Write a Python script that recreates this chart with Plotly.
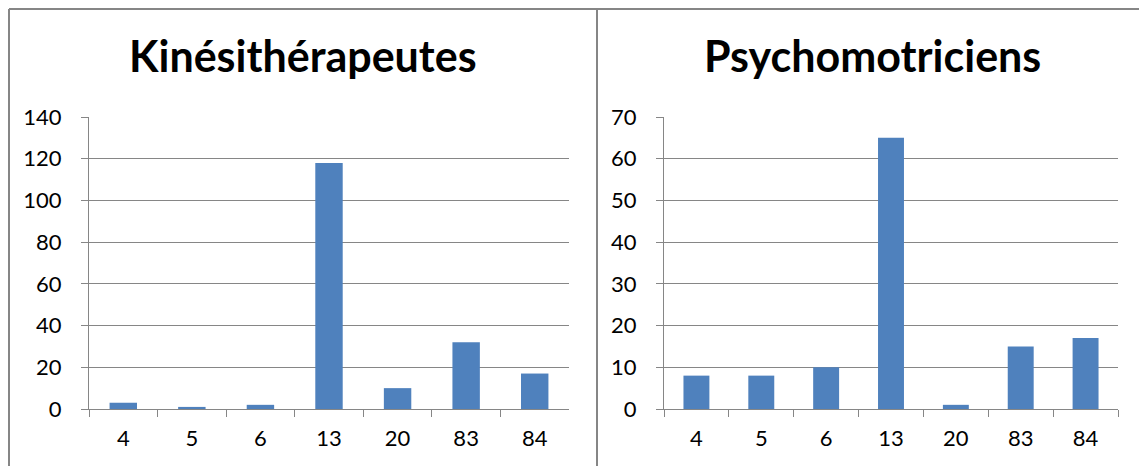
import plotly.graph_objects as go

# Data
categories = ["4", "5", "6", "13", "20", "83", "84"]
kine_values = [3, 1, 2, 118, 10, 32, 17]
psycho_values = [8, 8, 10, 65, 1, 15, 17]
kine_title = "Kinésithérapeutes"
psycho_title = "Psychomotriciens"

W, H = 1139, 466
BAR = "#4F81BD"
GRID = "#868686"
FONT = "Lato"


def px_x(x):
    return x / W


def px_y(y):
    return 1 - y / H


fig = go.Figure()
fig.add_trace(go.Bar(x=categories, y=kine_values, marker=dict(color=BAR, line=dict(width=0)),
                     xaxis="x", yaxis="y", showlegend=False))
fig.add_trace(go.Bar(x=categories, y=psycho_values, marker=dict(color=BAR, line=dict(width=0)),
                     xaxis="x2", yaxis="y2", showlegend=False))

xcommon = dict(type="category", showgrid=False, showline=True, linecolor=GRID, linewidth=1,
               ticks="outside", tickson="boundaries", ticklen=7, tickcolor=GRID,
               tickfont=dict(family=FONT, size=22, color="#000"), ticklabelstandoff=10,
               automargin=False, fixedrange=True)
ycommon = dict(showgrid=True, gridcolor=GRID, gridwidth=1, showline=True, linecolor=GRID,
               linewidth=1, ticks="outside", ticklen=7, tickcolor=GRID, zeroline=False,
               tickfont=dict(family=FONT, size=22, color="#000"), ticklabelstandoff=15,
               automargin=False, fixedrange=True)

plot_top, plot_bottom = 117, 409
fig.update_layout(
    width=W, height=H,
    margin=dict(l=0, r=0, t=0, b=0, autoexpand=False),
    paper_bgcolor="white", plot_bgcolor="white",
    bargap=0.6,
    xaxis=dict(domain=[px_x(89), px_x(569)], anchor="y", **xcommon),
    yaxis=dict(domain=[px_y(plot_bottom), px_y(plot_top)], anchor="x", range=[0, 140],
               dtick=20, **ycommon),
    xaxis2=dict(domain=[px_x(664), px_x(1118)], anchor="y2", **xcommon),
    yaxis2=dict(domain=[px_y(plot_bottom), px_y(plot_top)], anchor="x2", range=[0, 70],
                dtick=10, **ycommon),
)

# Panel titles
for text, cx in [(kine_title, 303), (psycho_title, 872)]:
    fig.add_annotation(text=f"<b>{text}</b>", x=px_x(cx), y=px_y(56), xref="paper", yref="paper",
                       xanchor="center", yanchor="middle", showarrow=False,
                       font=dict(family=FONT, size=43, color="#000"))

# Chart frames
frame = dict(type="line", xref="paper", yref="paper", line=dict(color=GRID, width=2))
fig.add_shape(x0=px_x(9), x1=1, y0=px_y(9), y1=px_y(9), **frame)
fig.add_shape(x0=px_x(9), x1=px_x(9), y0=px_y(9), y1=0, **frame)
fig.add_shape(x0=px_x(597), x1=px_x(597), y0=px_y(9), y1=0, **frame)

fig.write_html("out.html")
